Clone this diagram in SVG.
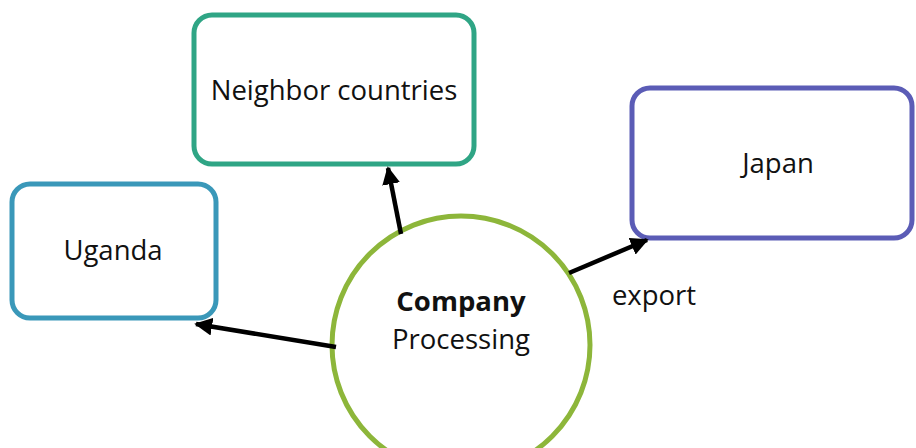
<svg xmlns="http://www.w3.org/2000/svg" width="916" height="448" viewBox="0 0 916 448">
<defs>
<marker id="ah" viewBox="0 0 10 10" refX="9" refY="5" markerWidth="4" markerHeight="4" orient="auto" markerUnits="strokeWidth">
<path d="M0,0 L10,5 L0,10 z" fill="#000"/>
</marker>
<style>
.box{fill:#fff;stroke-width:5}
.t{font-family:"Open Sans",Lato,"Liberation Sans",sans-serif;font-size:27.5px;fill:#111;text-anchor:middle}
.c{stroke:#000;stroke-width:4.5;fill:none;marker-end:url(#ah)}
</style>
</defs>
<rect width="916" height="448" fill="#fff"/>
<g id="neighbor">
<rect class="box" x="194" y="15" width="280" height="149" rx="18" stroke="#2fa585"/>
<text class="t" x="334" y="100">Neighbor countries</text>
</g>
<g id="uganda">
<rect class="box" x="12" y="184" width="204" height="134" rx="18" stroke="#3a98b9"/>
<text class="t" x="113" y="260">Uganda</text>
</g>
<g id="japan">
<rect class="box" x="632" y="88" width="280" height="150" rx="18" stroke="#5b5cb6"/>
<text class="t" x="778" y="173">Japan</text>
</g>
<g id="company">
<circle cx="461" cy="345" r="129" fill="#fff" stroke="#8db63a" stroke-width="5"/>
<text class="t" x="461" y="311" font-weight="bold">Company</text>
<text class="t" x="461" y="349">Processing</text>
</g>
<g id="connectors">
<line class="c" x1="401" y1="234" x2="388" y2="168"/>
<line class="c" x1="336" y1="347" x2="196" y2="324"/>
<line class="c" x1="569" y1="273" x2="647" y2="240"/>
<text class="t" x="654" y="305">export</text>
</g>
</svg>
